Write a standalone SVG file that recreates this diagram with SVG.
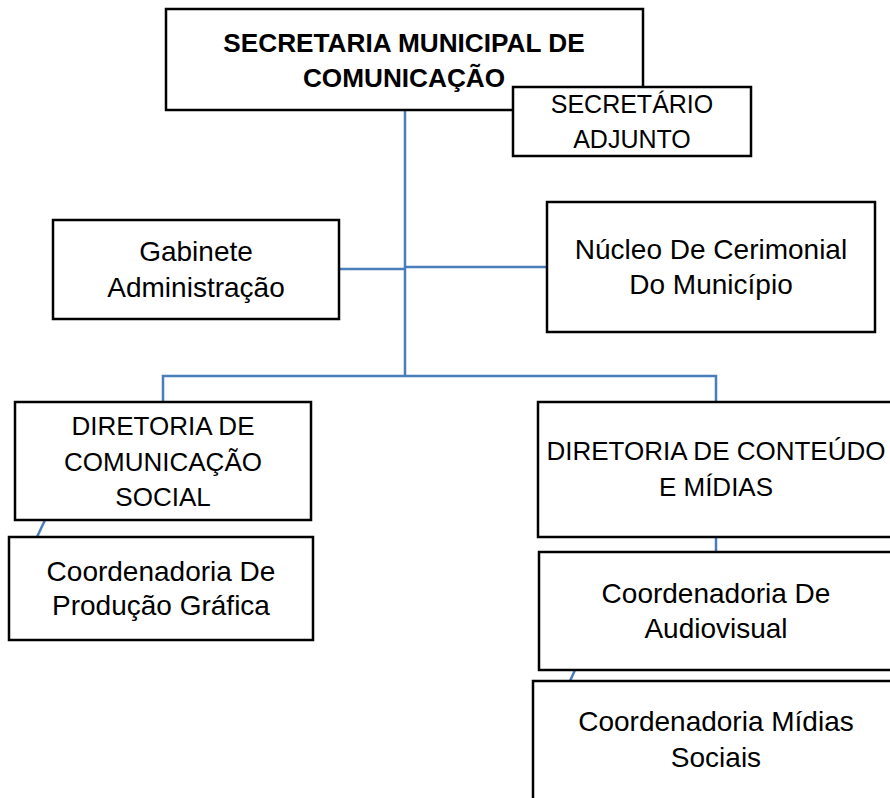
<svg xmlns="http://www.w3.org/2000/svg" width="890" height="798" viewBox="0 0 890 798">
<style>
.box{fill:#fff;stroke:#000;stroke-width:2.5}
.t{font-family:"Liberation Sans",Arial,sans-serif;font-size:28px;fill:#000;text-anchor:middle}
.u{font-size:26px}
.s{font-size:25px}
.b{font-weight:bold;font-size:26.2px}
.c{fill:none;stroke:#4A7EBB;stroke-width:2.5}
</style>
<rect width="890" height="798" fill="#fff"/>
<g id="connectors">
<path class="c" d="M405,110 V376"/>
<path class="c" d="M339,269 H405"/>
<path class="c" d="M405,267 H547"/>
<path class="c" d="M163,402 V376 H716 V402"/>
<path class="c" d="M716,537 V552"/>
<path class="c" d="M45,520 L37,537"/>
<path class="c" d="M575,670 L570,681"/>
</g>
<g id="secretaria">
<rect class="box" x="166" y="9" width="477" height="101"/>
<text class="t b" x="404" y="52">SECRETARIA MUNICIPAL DE</text>
<text class="t b" x="404" y="87">COMUNICAÇÃO</text>
</g>
<g id="adjunto">
<rect class="box" x="513" y="87" width="238" height="69"/>
<text class="t s" x="632" y="113">SECRETÁRIO</text>
<text class="t s" x="632" y="148">ADJUNTO</text>
</g>
<g id="gabinete">
<rect class="box" x="53" y="220" width="286" height="99"/>
<text class="t" x="196" y="261">Gabinete</text>
<text class="t" x="196" y="297">Administração</text>
</g>
<g id="nucleo">
<rect class="box" x="547" y="202" width="328" height="130"/>
<text class="t" x="711" y="259">Núcleo De Cerimonial</text>
<text class="t" x="711" y="294">Do Município</text>
</g>
<g id="dir-comunicacao">
<rect class="box" x="15" y="402" width="296" height="118"/>
<text class="t u" x="163" y="435">DIRETORIA DE</text>
<text class="t u" x="163" y="471">COMUNICAÇÃO</text>
<text class="t u" x="163" y="506">SOCIAL</text>
</g>
<g id="coord-grafica">
<rect class="box" x="9" y="537" width="304" height="103"/>
<text class="t" x="161" y="581">Coordenadoria De</text>
<text class="t" x="161" y="615">Produção Gráfica</text>
</g>
<g id="dir-conteudo">
<rect class="box" x="538" y="402" width="360" height="135"/>
<text class="t u" x="716" y="460">DIRETORIA DE CONTEÚDO</text>
<text class="t u" x="716" y="496">E MÍDIAS</text>
</g>
<g id="coord-audiovisual">
<rect class="box" x="539" y="552" width="360" height="118"/>
<text class="t" x="716" y="603">Coordenadoria De</text>
<text class="t" x="716" y="638">Audiovisual</text>
</g>
<g id="coord-midias">
<rect class="box" x="533" y="681" width="366" height="130"/>
<text class="t" x="716" y="731">Coordenadoria Mídias</text>
<text class="t" x="716" y="767">Sociais</text>
</g>
</svg>
